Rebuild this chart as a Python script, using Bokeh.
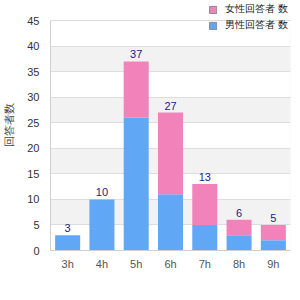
from bokeh.plotting import figure
from bokeh.models import (FactorRange, Range1d, ColumnDataSource, Legend, LegendItem,
                          SingleIntervalTicker, LabelSet, BoxAnnotation)
from bokeh.core.properties import value
from bokeh.embed import file_html
from bokeh.resources import INLINE

hours = ["3h", "4h", "5h", "6h", "7h", "8h", "9h"]
male = [3, 10, 26, 11, 5, 3, 2]
female = [0, 0, 11, 16, 8, 3, 3]
totals = [m + f for m, f in zip(male, female)]
label_male = "男性回答者 数"
label_female = "女性回答者 数"
y_label = "回答者数"
y_max = 45
y_step = 5

FONT = "Liberation Sans"
src = ColumnDataSource(dict(x=hours, male=male, female=female, total=totals,
                            lab=[str(t) for t in totals]))

# frame spans the full top; the data box (0..45) starts 20px below the canvas top
frame_h = 250
top_gap = 20
y_top = y_max * frame_h / (frame_h - top_gap)

p = figure(width=300, height=300, x_range=FactorRange(*hours, range_padding=0),
           y_range=Range1d(0, y_top), output_backend="svg", toolbar_location=None,
           min_border_left=50, min_border_right=10, min_border_top=0, min_border_bottom=50)
p.outline_line_color = None
p.background_fill_color = "white"

# alternating bands (5-10, 15-20, ...)
for lo in range(y_step, y_max, 2 * y_step):
    p.add_layout(BoxAnnotation(bottom=lo, top=lo + y_step, fill_color="#f2f2f2",
                               fill_alpha=1, line_color=None, level="image"))
# box border around the data area
p.add_layout(BoxAnnotation(bottom=0, top=y_max, fill_alpha=0, line_color="#d9d9d9",
                           line_width=1, level="underlay"))

r = p.vbar_stack(["male", "female"], x="x", width=0.73, source=src,
                 color=["#60a8f5", "#f283ba"], line_color=None)

labels = LabelSet(x="x", y="total", text="lab", source=src, text_align="center",
                  text_baseline="bottom", y_offset=3, text_color="#1a1a8a",
                  text_font_size="11px", text_font=value(FONT))
p.add_layout(labels)

# legend-only renderers (NaN height: nothing drawn in the plot)
dummy = ColumnDataSource(dict(x=[hours[0]], top=[float("nan")]))
lf = p.vbar(x="x", top="top", width=0.5, source=dummy, fill_color="#f283ba", line_color="#888888")
lm = p.vbar(x="x", top="top", width=0.5, source=dummy, fill_color="#60a8f5", line_color="#888888")
legend = Legend(items=[LegendItem(label=label_female, renderers=[lf]),
                       LegendItem(label=label_male, renderers=[lm])],
                location="top_right", orientation="vertical",
                background_fill_alpha=0, border_line_color=None,
                label_text_font_size="10px", label_text_font=FONT, label_text_color="#222222",
                glyph_width=9, glyph_height=9, spacing=2, padding=0, margin=2,
                label_standoff=8, label_height=9)
p.add_layout(legend, "center")

p.yaxis.ticker = SingleIntervalTicker(interval=y_step)
p.ygrid.ticker = SingleIntervalTicker(interval=y_step)
p.ygrid.grid_line_color = "#dddddd"
p.ygrid.level = "underlay"
p.xgrid.grid_line_color = None
p.yaxis.bounds = (0, y_max)

for ax in (p.xaxis, p.yaxis):
    ax.axis_line_color = "#d0d0d0"
    ax.major_tick_line_color = None
    ax.minor_tick_line_color = None
    ax.major_tick_out = 0
    ax.major_tick_in = 0
    ax.major_label_text_font_size = "11px"
    ax.major_label_text_font = FONT
p.yaxis.major_label_text_color = "#333333"
p.xaxis.major_label_text_color = "#555555"
p.yaxis.major_label_standoff = 7
p.xaxis.major_label_standoff = 7
p.yaxis.axis_label = y_label
p.yaxis.axis_label_text_font_size = "11px"
p.yaxis.axis_label_text_font_style = "normal"
p.yaxis.axis_label_text_font = FONT
p.yaxis.axis_label_standoff = 9

open("out.html", "w").write(file_html(p, INLINE))
